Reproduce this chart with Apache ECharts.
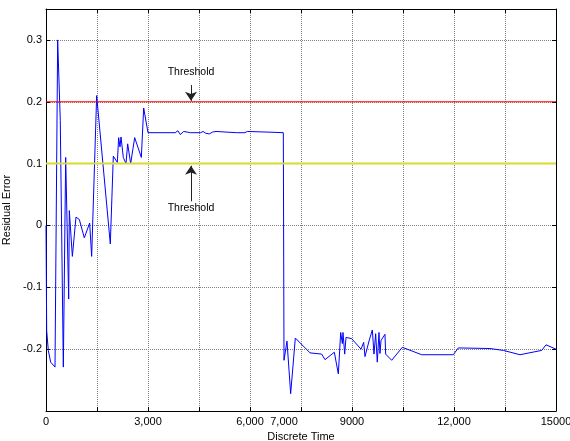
<!DOCTYPE html>
<html>
<head>
<meta charset="utf-8">
<script src="https://cdn.jsdelivr.net/npm/echarts@6/dist/echarts.min.js"></script>
<style>html,body{margin:0;padding:0;background:#fff;}#c{width:570px;height:441px;}</style>
</head>
<body>
<div id="c"></div>
<script>
// ---- data ----
var time = [0,20,68,137,265,343,420,510,579,667,686,775,882,980,1127,1284,1343,1490,1892,1980,2098,2137,2176,2206,2274,2353,2402,2490,2608,2804,2873,3000,3800,3880,3950,4050,4150,4250,4550,4620,4700,4800,4900,5000,5600,5850,5920,5970,6500,6980,7000,7088,7196,7333,7765,8108,8206,8480,8598,8667,8716,8735,8785,8824,8990,9265,9343,9382,9510,9598,9647,9696,9744,9794,9823,9853,9970,9990,10167,10480,11049,11980,12127,13059,13450,13941,14579,14706,15000];
var residual = [0.0,-0.17,-0.202,-0.221,-0.229,0.300,0.170,-0.229,0.110,-0.119,0.024,-0.050,0.0135,0.0097,-0.020,0.004,-0.050,0.210,-0.030,0.112,0.102,0.142,0.127,0.143,0.110,0.100,0.132,0.100,0.142,0.110,0.190,0.150,0.150,0.153,0.147,0.152,0.151,0.150,0.150,0.152,0.149,0.148,0.151,0.152,0.150,0.150,0.152,0.150,0.151,0.150,-0.218,-0.187,-0.272,-0.182,-0.206,-0.208,-0.217,-0.205,-0.240,-0.173,-0.191,-0.173,-0.208,-0.181,-0.183,-0.200,-0.189,-0.212,-0.185,-0.169,-0.208,-0.175,-0.221,-0.173,-0.207,-0.186,-0.176,-0.208,-0.218,-0.197,-0.209,-0.209,-0.198,-0.199,-0.202,-0.209,-0.202,-0.193,-0.200];
var upperThreshold = 0.2;
var lowerThreshold = 0.1;
var xRange = [0, 15000];
var yRange = [-0.3, 0.35];
var xTickLabels = {0:'0', 3000:'3,000', 6000:'6,000', 9000:'9000', 12000:'12,000', 15000:'15000'};
var extraXTickLabels = {7000:'7,000'};
var labelText = 'Threshold';
var arrowX = 4265;
var upperArrow = [0.227, 0.2015];
var lowerArrow = [0.039, 0.0965];
var upperLabelY = 0.2476;
var lowerLabelY = 0.028;

// ---- chart ----
var FONT = 'Liberation Sans, Arial, sans-serif';
var chart = echarts.init(document.getElementById('c'), null, {renderer:'canvas'});
var series = time.map(function(t,i){return [t, residual[i]];});
var dotted = {color:'#808080', width:1, type:[1,1]};
var option = {
  animation:false,
  backgroundColor:'#fff',
  grid:{left:46, right:14, top:9, bottom:30, containLabel:false, outerBoundsMode:'none'},
  xAxis:[
    {type:'value', position:'bottom', min:xRange[0], max:xRange[1], interval:1500,
     name:'Discrete Time', nameLocation:'middle', nameGap:19,
     nameTextStyle:{color:'#000', fontSize:11, fontFamily:FONT},
     axisLine:{onZero:false, lineStyle:{color:'#000', width:1}},
     axisTick:{inside:true, length:4, lineStyle:{color:'#000'}},
     axisLabel:{margin:5, color:'#000', fontSize:11, fontFamily:FONT, hideOverlap:false,
       formatter:function(v){var k=Math.round(v); return xTickLabels[k]!==undefined?xTickLabels[k]:'';}},
     splitLine:{show:true, lineStyle:dotted}},
    {type:'value', position:'bottom', min:xRange[0], max:xRange[1], interval:1000,
     axisLine:{show:false, onZero:false}, axisTick:{show:false}, splitLine:{show:false},
     axisLabel:{margin:5, color:'#000', fontSize:11, fontFamily:FONT, hideOverlap:false,
       formatter:function(v){var k=Math.round(v); return extraXTickLabels[k]!==undefined?extraXTickLabels[k]:'';}}},
    {type:'value', position:'top', min:xRange[0], max:xRange[1], interval:1500,
     axisLine:{onZero:false, lineStyle:{color:'#000', width:1}},
     axisTick:{inside:true, length:4, lineStyle:{color:'#000'}},
     axisLabel:{show:false}, splitLine:{show:false}}
  ],
  yAxis:[
    {type:'value', position:'left', min:yRange[0], max:yRange[1], interval:0.1,
     name:'Residual Error', nameLocation:'middle', nameGap:27,
     nameTextStyle:{color:'#000', fontSize:11, fontFamily:FONT},
     axisLine:{onZero:false, lineStyle:{color:'#000', width:1}},
     axisTick:{inside:true, length:4, lineStyle:{color:'#000'}},
     axisLabel:{margin:4, color:'#000', fontSize:11, fontFamily:FONT,
       formatter:function(v){ if(v<-0.25||v>0.32) return ''; if(Math.abs(v)<1e-9) return '0'; return v.toFixed(1);}},
     splitLine:{show:true, lineStyle:dotted}},
    {type:'value', position:'right', min:yRange[0], max:yRange[1], interval:0.1,
     axisLine:{onZero:false, lineStyle:{color:'#000', width:1}},
     axisTick:{inside:true, length:4, lineStyle:{color:'#000'}},
     axisLabel:{show:false}, splitLine:{show:false}}
  ],
  series:[
    {type:'line', name:'residual', xAxisIndex:0, yAxisIndex:0, data:series, showSymbol:false, symbol:'none',
     lineStyle:{color:'#0000ff', width:1}, z:3},
    {type:'line', name:'upper', xAxisIndex:0, yAxisIndex:0, data:[[xRange[0],upperThreshold],[xRange[1],upperThreshold]],
     symbol:'none', lineStyle:{color:'#ff0000', width:1}, z:4,
     markLine:{silent:true, symbol:['none','arrow'], symbolSize:9,
       lineStyle:{color:'#222', width:1, type:'solid'}, label:{show:false},
       data:[[{coord:[arrowX, upperArrow[0]]},{coord:[arrowX, upperArrow[1]]}],
             [{coord:[arrowX, lowerArrow[0]]},{coord:[arrowX, lowerArrow[1]]}]]},
     markPoint:{silent:true, symbol:'circle', symbolSize:0,
       label:{show:true, position:'inside', color:'#000', fontSize:10.5, fontFamily:FONT, formatter:labelText},
       data:[{coord:[arrowX, upperLabelY]},{coord:[arrowX, lowerLabelY]}]}},
    {type:'line', name:'lower', xAxisIndex:0, yAxisIndex:0, data:[[xRange[0],lowerThreshold],[xRange[1],lowerThreshold]],
     symbol:'none', lineStyle:{color:'#d9d92e', width:2}, z:4}
  ]
};
chart.setOption(option);
</script>
</body>
</html>
